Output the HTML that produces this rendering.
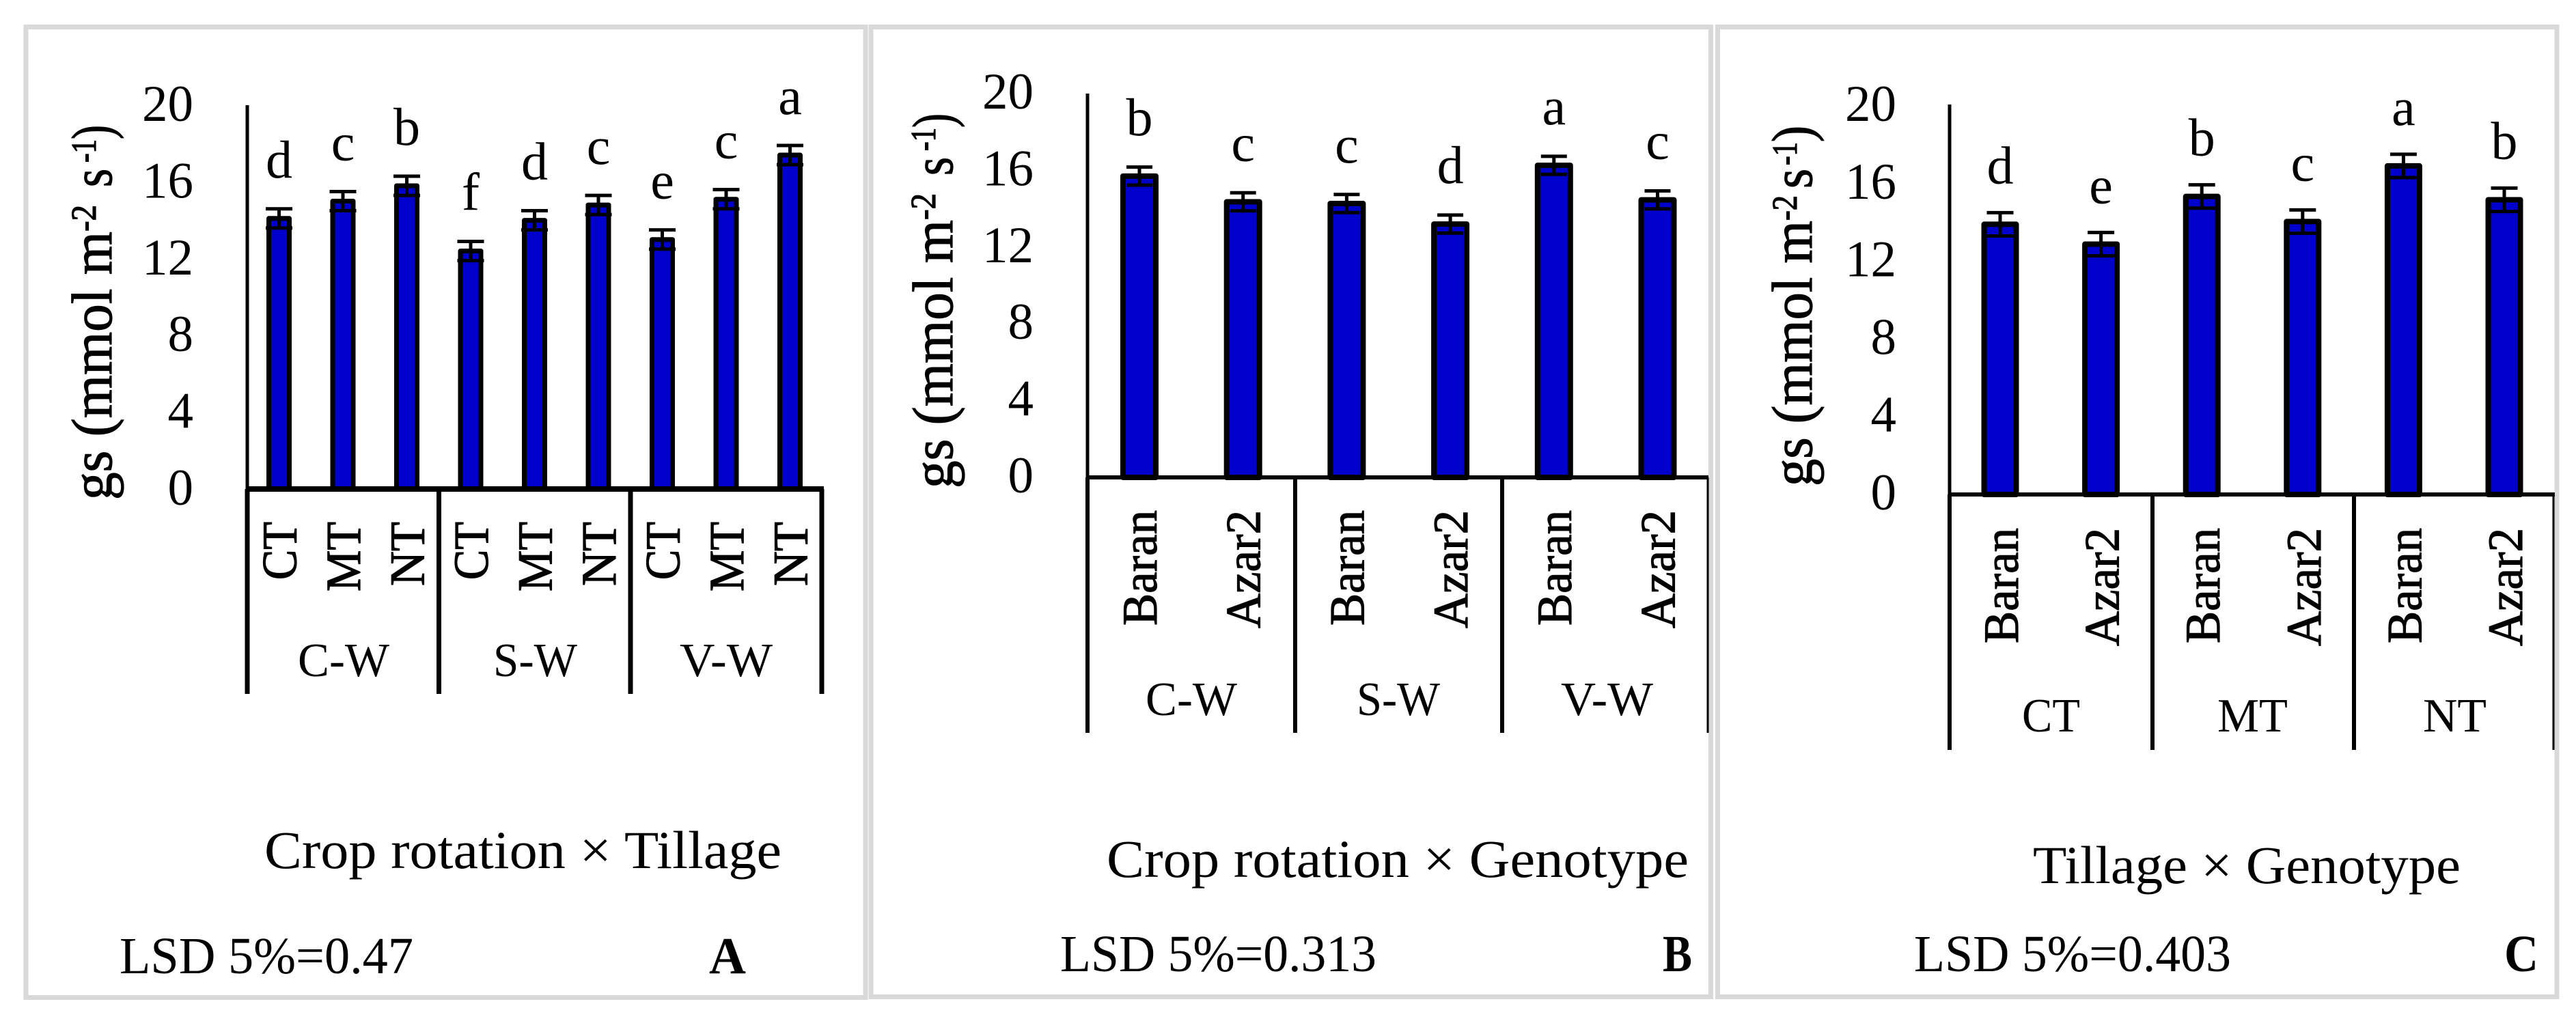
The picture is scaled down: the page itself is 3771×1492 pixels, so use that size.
<!DOCTYPE html>
<html lang="en">
<head>
<meta charset="utf-8">
<title>Stomatal conductance (gs) by crop rotation, tillage and genotype</title>
<style>
  html, body { margin: 0; padding: 0; background: #fff; }
  body { width: 3771px; height: 1492px; overflow: hidden; }
  svg { display: block; }
  text { font-family: "Liberation Serif", serif; fill: #000; }
  .rot { stroke: #000; stroke-width: 1.2px; }
</style>
</head>
<body>
<svg id="figure" xmlns="http://www.w3.org/2000/svg" width="3771" height="1492" viewBox="0 0 3771 1492">
  <rect x="0" y="0" width="3771" height="1492" fill="#fff"/>

  <!-- Panel frames -->
  <rect x="38" y="39.5" width="1229" height="1421" fill="#fff" stroke="#d9d9d9" stroke-width="7"/>
  <rect x="1275" y="39.5" width="1229.5" height="1420" fill="#fff" stroke="#d9d9d9" stroke-width="7"/>
  <rect x="2514.5" y="39.5" width="1228.5" height="1420" fill="#fff" stroke="#d9d9d9" stroke-width="7"/>

  <!-- Panel A static text -->
  <g id="panel-a">
    <g>
      <text class="rot" transform="translate(163,732) rotate(-90)" font-size="84" textLength="393" lengthAdjust="spacingAndGlyphs">gs (mmol m</text>
      <text class="rot" transform="translate(140,339) rotate(-90)" font-size="52" textLength="39" lengthAdjust="spacingAndGlyphs">-2</text>
      <text class="rot" transform="translate(163,274) rotate(-90)" font-size="84" textLength="27" lengthAdjust="spacingAndGlyphs">s</text>
      <text class="rot" transform="translate(140,238) rotate(-90)" font-size="52" textLength="34" lengthAdjust="spacingAndGlyphs">-1</text>
      <text class="rot" transform="translate(163,204) rotate(-90)" font-size="84" textLength="21" lengthAdjust="spacingAndGlyphs">)</text>
    </g>
    <text x="436" y="990" font-size="70" textLength="134" lengthAdjust="spacingAndGlyphs">C-W</text>
    <text x="722" y="990" font-size="70" textLength="123" lengthAdjust="spacingAndGlyphs">S-W</text>
    <text x="995" y="990" font-size="70" textLength="136" lengthAdjust="spacingAndGlyphs">V-W</text>
    <text x="387" y="1271" font-size="78" textLength="757" lengthAdjust="spacingAndGlyphs">Crop rotation × Tillage</text>
    <text x="175" y="1425" font-size="76" textLength="430" lengthAdjust="spacingAndGlyphs">LSD 5%=0.47</text>
    <text x="1038" y="1425" font-size="76" font-weight="bold" textLength="54" lengthAdjust="spacingAndGlyphs">A</text>
  </g>

  <!-- Panel B static text -->
  <g id="panel-b">
    <g>
      <text class="rot" transform="translate(1394,715) rotate(-90)" font-size="84" textLength="393" lengthAdjust="spacingAndGlyphs">gs (mmol m</text>
      <text class="rot" transform="translate(1369,322) rotate(-90)" font-size="52" textLength="39" lengthAdjust="spacingAndGlyphs">-2</text>
      <text class="rot" transform="translate(1394,257) rotate(-90)" font-size="84" textLength="27" lengthAdjust="spacingAndGlyphs">s</text>
      <text class="rot" transform="translate(1369,221) rotate(-90)" font-size="52" textLength="34" lengthAdjust="spacingAndGlyphs">-1</text>
      <text class="rot" transform="translate(1394,187) rotate(-90)" font-size="84" textLength="21" lengthAdjust="spacingAndGlyphs">)</text>
    </g>
    <text x="1677" y="1047" font-size="70" textLength="134" lengthAdjust="spacingAndGlyphs">C-W</text>
    <text x="1986" y="1047" font-size="70" textLength="122" lengthAdjust="spacingAndGlyphs">S-W</text>
    <text x="2285" y="1047" font-size="70" textLength="135" lengthAdjust="spacingAndGlyphs">V-W</text>
    <text x="1620" y="1284" font-size="78" textLength="852" lengthAdjust="spacingAndGlyphs">Crop rotation × Genotype</text>
    <text x="1552" y="1422" font-size="76" textLength="463" lengthAdjust="spacingAndGlyphs">LSD 5%=0.313</text>
    <text x="2434" y="1422" font-size="76" font-weight="bold" textLength="43" lengthAdjust="spacingAndGlyphs">B</text>
  </g>

  <!-- Panel C static text -->
  <g id="panel-c">
    <g>
      <text class="rot" transform="translate(2652,712) rotate(-90)" font-size="84" textLength="389" lengthAdjust="spacingAndGlyphs">gs (mmol m</text>
      <text class="rot" transform="translate(2630,323) rotate(-90)" font-size="52" textLength="37" lengthAdjust="spacingAndGlyphs">-2</text>
      <text class="rot" transform="translate(2652,276) rotate(-90)" font-size="84" textLength="29" lengthAdjust="spacingAndGlyphs">s</text>
      <text class="rot" transform="translate(2630,242) rotate(-90)" font-size="52" textLength="34" lengthAdjust="spacingAndGlyphs">-1</text>
      <text class="rot" transform="translate(2652,208) rotate(-90)" font-size="84" textLength="24" lengthAdjust="spacingAndGlyphs">)</text>
    </g>
    <text x="2960" y="1071" font-size="70" textLength="85" lengthAdjust="spacingAndGlyphs">CT</text>
    <text x="3246" y="1071" font-size="70" textLength="103" lengthAdjust="spacingAndGlyphs">MT</text>
    <text x="3547" y="1071" font-size="70" textLength="93" lengthAdjust="spacingAndGlyphs">NT</text>
    <text x="2976" y="1293" font-size="78" textLength="626" lengthAdjust="spacingAndGlyphs">Tillage × Genotype</text>
    <text x="2802" y="1422" font-size="76" textLength="464" lengthAdjust="spacingAndGlyphs">LSD 5%=0.403</text>
    <text x="3666" y="1422" font-size="76" font-weight="bold" textLength="50" lengthAdjust="spacingAndGlyphs">C</text>
  </g>
</svg>

<script>
// Shared value-axis ticks
const yTickLabels = [0, 4, 8, 12, 16, 20];

// Panel A: crop rotation x tillage
const panelACategories = ['CT', 'MT', 'NT', 'CT', 'MT', 'NT', 'CT', 'MT', 'NT'];
const panelAValues = [14.1, 15.0, 15.8, 12.4, 14.0, 14.8, 13.0, 15.1, 17.4];
const panelAErrors = [0.5, 0.5, 0.5, 0.5, 0.5, 0.5, 0.5, 0.5, 0.5];
const panelALetters = ['d', 'c', 'b', 'f', 'd', 'c', 'e', 'c', 'a'];

// Panel B: crop rotation x genotype
const panelBCategories = ['Baran', 'Azar2', 'Baran', 'Azar2', 'Baran', 'Azar2'];
const panelBValues = [15.7, 14.36, 14.27, 13.2, 16.26, 14.46];
const panelBErrors = [0.47, 0.47, 0.47, 0.47, 0.47, 0.47];
const panelBLetters = ['b', 'c', 'c', 'd', 'a', 'c'];

// Panel C: tillage x genotype
const panelCCategories = ['Baran', 'Azar2', 'Baran', 'Azar2', 'Baran', 'Azar2'];
const panelCValues = [13.88, 12.86, 15.31, 14.02, 16.88, 15.14];
const panelCErrors = [0.6, 0.6, 0.6, 0.6, 0.6, 0.6];
const panelCLetters = ['d', 'e', 'b', 'c', 'a', 'b'];

const SVG_NS = 'http://www.w3.org/2000/svg';
const labelLengths = { CT: 85, MT: 102, NT: 94, Baran: 169, Azar2: 173 };

function svgEl(tag, parent, attrs) {
  const el = document.createElementNS(SVG_NS, tag);
  for (const key in attrs) {
    el.setAttribute(key, attrs[key]);
  }
  parent.appendChild(el);
  return el;
}

function drawPanel(id, g, categories, values, errors, letters) {
  const root = document.getElementById(id);
  const yScale = function (v) { return g.y0 - v * g.unit; };
  const xScale = function (i) { return g.x0 + i * g.step; };

  // Tick labels
  yTickLabels.forEach(function (t) {
    const label = svgEl('text', root, {
      x: g.tickRight,
      y: g.tickBase - t * g.tickUnit,
      'font-size': 75,
      'text-anchor': 'end'
    });
    label.textContent = String(t);
    
    
  });

  // Bars, error bars and significance letters
  values.forEach(function (v, i) {
    const cx = xScale(i);
    const top = yScale(v);
    const bar = svgEl('rect', root, {
      x: cx - g.barWidth / 2,
      y: top,
      width: g.barWidth,
      height: g.y0 - top,
      fill: '#0000cc',
      stroke: '#000',
      'stroke-width': g.barStroke,
      'stroke-linejoin': 'round'
    });
    
    

    const errHigh = yScale(v + errors[i]);
    const errLow = yScale(v - errors[i]);
    const errorBar = svgEl('path', root, {
      d: 'M' + (cx - g.capWidth / 2) + ' ' + errHigh + 'H' + (cx + g.capWidth / 2) +
         'M' + cx + ' ' + errHigh + 'V' + errLow +
         'M' + (cx - g.capWidth / 2) + ' ' + errLow + 'H' + (cx + g.capWidth / 2),
      fill: 'none',
      stroke: '#000',
      'stroke-width': 5
    });
    
    

    const letter = svgEl('text', root, {
      x: cx,
      y: top - 60,
      'font-size': 78,
      'text-anchor': 'middle'
    });
    letter.textContent = letters[i];
    
    

    const cat = svgEl('text', root, {
      class: 'rot',
      transform: 'translate(' + (cx + g.catOffset) + ',' + g.catTop + ') rotate(-90)',
      'font-size': 72,
      'text-anchor': 'end',
      textLength: labelLengths[categories[i]],
      lengthAdjust: 'spacingAndGlyphs'
    });
    cat.textContent = categories[i];
    
    
  });

  // Value axis line
  const axis = svgEl('line', root, {
    x1: g.axisX, x2: g.axisX, y1: g.axisTop, y2: g.y0,
    stroke: '#000', 'stroke-width': 5
  });
  
  

  // Category axis line
  const baseline = svgEl('line', root, {
    x1: g.axisX - 2, x2: g.axisRight, y1: g.y0, y2: g.y0,
    stroke: '#000', 'stroke-width': g.baseStroke
  });
  
  

  // Group separators
  g.separators.forEach(function (sx, i) {
    const sep = svgEl('line', root, {
      x1: sx, x2: sx, y1: g.y0, y2: g.sepBottom,
      stroke: '#000',
      'stroke-width': g.sepWidths[i]
    });
    
    
  });
}

drawPanel('panel-a', {
  y0: 716, unit: 28.1, tickBase: 739, tickUnit: 28.1, tickRight: 283,
  x0: 408.5, step: 93.5, barWidth: 30, barStroke: 7, capWidth: 39, baseStroke: 8,
  catOffset: 25, catTop: 764, axisX: 362, axisTop: 154, axisRight: 1206,
  separators: [362, 642.5, 923, 1203], sepWidths: [7, 7, 7, 7], sepBottom: 1016
}, panelACategories, panelAValues, panelAErrors, panelALetters);

drawPanel('panel-b', {
  y0: 699, unit: 28.1, tickBase: 721, tickUnit: 28.1, tickRight: 1513,
  x0: 1668, step: 151.7, barWidth: 48, barStroke: 8, capWidth: 38, baseStroke: 6,
  catOffset: 25, catTop: 747, axisX: 1592, axisTop: 137, axisRight: 2501,
  separators: [1592, 1896, 2199, 2500], sepWidths: [6, 6, 6, 3], sepBottom: 1073
}, panelBCategories, panelBValues, panelBErrors, panelBLetters);

drawPanel('panel-c', {
  y0: 724, unit: 28.5, tickBase: 746, tickUnit: 28.45, tickRight: 2776,
  x0: 2928, step: 147.6, barWidth: 47, barStroke: 8, capWidth: 39, baseStroke: 6,
  catOffset: 26, catTop: 773, axisX: 2854, axisTop: 153, axisRight: 3740,
  separators: [2854, 3151, 3446, 3738], sepWidths: [6, 6, 6, 3], sepBottom: 1098
}, panelCCategories, panelCValues, panelCErrors, panelCLetters);
</script>
</body>
</html>
